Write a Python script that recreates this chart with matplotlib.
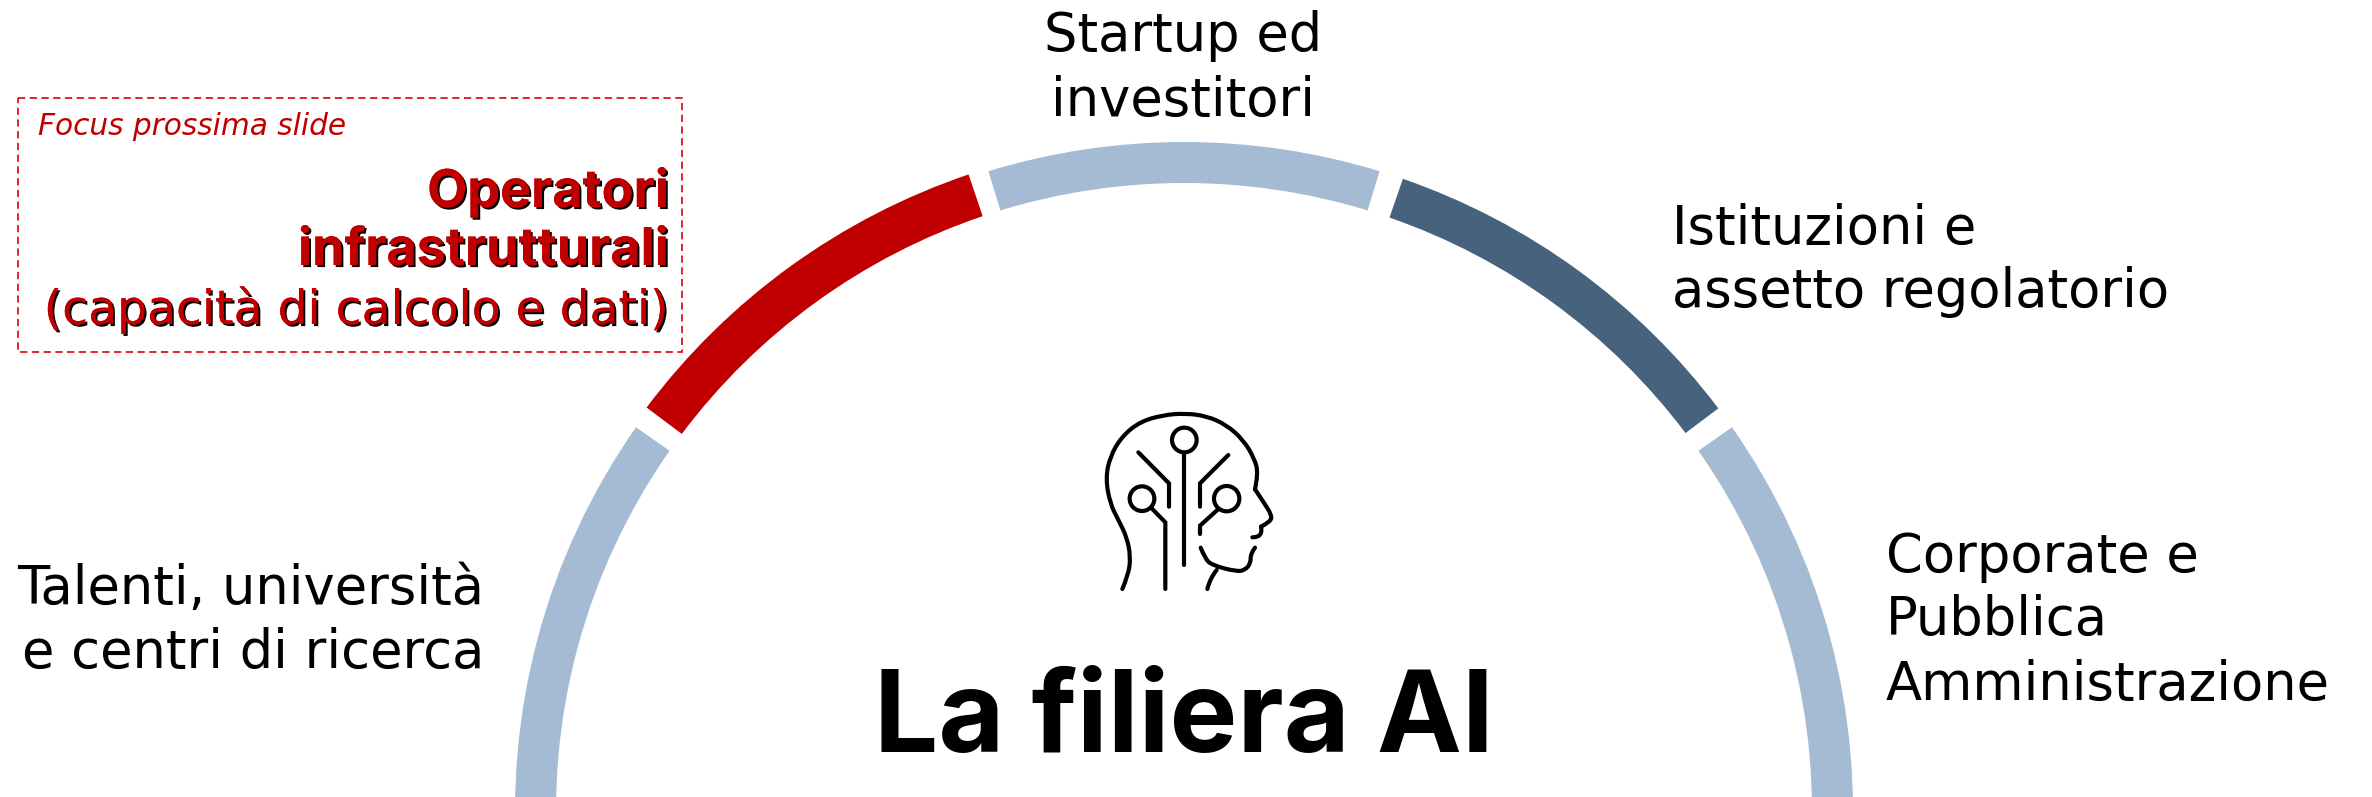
import matplotlib
matplotlib.use("Agg")
import matplotlib.pyplot as plt
import matplotlib.patheffects as pe
from matplotlib.patches import Wedge, Rectangle, Circle
from matplotlib.path import Path
from matplotlib.patches import PathPatch

# arc segments, degrees from the positive x axis
seg_start = [-5, 37, 73, 108.7, 145]
seg_end = [35, 70.9, 107, 143.1, 185]
seg_colors = ["#A5BBD3", "#46627D", "#A5BBD3", "#C00000", "#A5BBD3"]
seg_outer = [669, 669, 669, 672, 669]
seg_width = [41, 41, 41, 44, 41]

title = "La filiera AI"
labels_top = ["Startup ed", "investitori"]
labels_reg = ["Istituzioni e", "assetto regolatorio"]
labels_corp = ["Corporate e", "Pubblica", "Amministrazione"]
labels_tal = ["Talenti, università", "e centri di ricerca"]
focus_note = "Focus prossima slide"
focus_bold = ["Operatori", "infrastrutturali"]
focus_plain = "(capacità di calcolo e dati)"

RED = "#C00000"
FONT = "DejaVu Sans"
FONT_BOLD = "Inter"

fig = plt.figure(figsize=(23.72, 7.97), dpi=100)
ax = fig.add_axes([0, 0, 1, 1])
ax.set_xlim(0, 2372)
ax.set_ylim(797, 0)
ax.axis("off")

# y axis is flipped so the wedges are given mirrored angles
cx, cy = 1184, 811
for a, b, c, r, w in zip(seg_start, seg_end, seg_colors, seg_outer, seg_width):
    ax.add_patch(Wedge((cx, cy), r, -b, -a, width=w, color=c, lw=0))


def txt(x, y, s, ha="left", size=38, font=FONT, **kw):
    return ax.text(x, y, s, ha=ha, va="baseline", fontsize=size, family=font, color=kw.pop("color", "black"), **kw)


for s, y in zip(labels_top, [51, 116]):
    txt(1183, y, s, ha="center")
for s, y in zip(labels_reg, [244, 307]):
    txt(1672, y, s)
for s, y in zip(labels_corp, [572, 635, 700]):
    txt(1886, y, s)
for s, y in zip(labels_tal, [604, 668]):
    txt(484, y, s, ha="right")

txt(1184, 752, title, ha="center", size=82, font=FONT_BOLD, weight="bold")

# focus box
ax.add_patch(Rectangle((18, 98), 664, 254, fill=False, ec="#E3101E", lw=1.3, ls=(0, (4, 2.5))))
txt(38, 135, focus_note, size=21.3, color=RED, style="italic")
shadow = [pe.withSimplePatchShadow(offset=(1.5, -1.5), shadow_rgbFace="black", alpha=1), pe.Normal()]
for s, y in zip(focus_bold, [207, 265]):
    txt(669, y, s, ha="right", size=37.5, font=FONT_BOLD, color=RED, weight="bold", path_effects=shadow)
txt(669, 324, focus_plain, ha="right", size=34, color=RED, path_effects=shadow)

# head icon in a 3x local grid
ix, iy = 1060, 390
head = [
    [(187, 597), (205, 555), (212, 500), (200, 440), (175, 390), (150, 340), (137, 265), (150, 200),
     (185, 140), (240, 95), (310, 75), (375, 70), (440, 78), (500, 105), (550, 150), (583, 205),
     (595, 250), (585, 298)],
    [(585, 298), (610, 335), (635, 375), (632, 395), (603, 410)],
    [(603, 410), (610, 442), (577, 442)],
    [(585, 473), (572, 490), (572, 520), (555, 540), (530, 545), (455, 525), (435, 505), (422, 473)],
    [(442, 597), (450, 565), (470, 540)],
]
wires = [
    [(373, 190), (373, 525)],
    [(235, 187), (327, 280), (327, 350)],
    [(505, 195), (420, 280), (420, 350)],
    [(275, 355), (316, 397), (316, 597)],
    [(472, 360), (420, 407), (420, 432)],
]
nodes = [(373, 150, 37), (246, 326, 37), (500, 326, 38)]


def to_px(p):
    return (ix + p[0] / 3, iy + p[1] / 3)


def smooth(pts):
    pts = [to_px(p) for p in pts]
    verts = [pts[0]]
    codes = [Path.MOVETO]
    for i in range(1, len(pts) - 1):
        if i < len(pts) - 2:
            end = ((pts[i][0] + pts[i + 1][0]) / 2, (pts[i][1] + pts[i + 1][1]) / 2)
        else:
            end = pts[i + 1]
        verts += [pts[i], end]
        codes += [Path.CURVE3, Path.CURVE3]
    return Path(verts, codes)


for pts in head:
    ax.add_patch(PathPatch(smooth(pts), fill=False, ec="black", lw=3, capstyle="round"))
for pts in wires:
    xs, ys = zip(*[to_px(p) for p in pts])
    ax.plot(xs, ys, color="black", lw=3, solid_capstyle="round", solid_joinstyle="miter")
for u, v, r in nodes:
    ax.add_patch(Circle(to_px((u, v)), r / 3, fill=False, ec="black", lw=3))

fig.savefig("out.png", dpi=100)
